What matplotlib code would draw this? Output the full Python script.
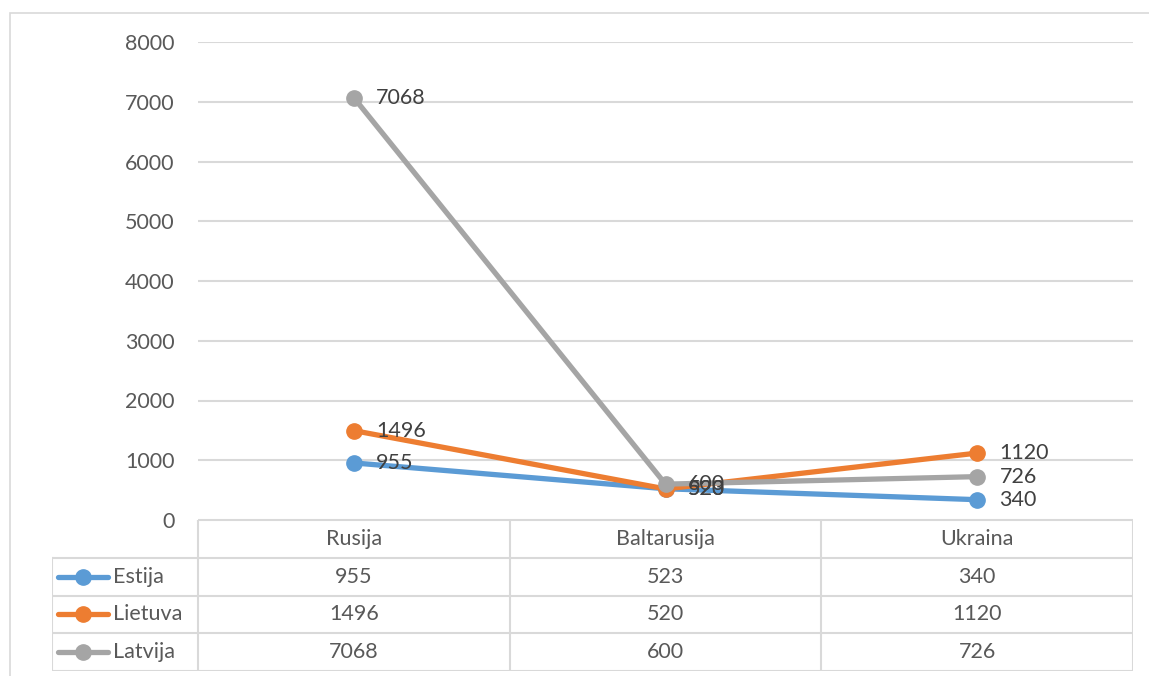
import numpy as np
import matplotlib.pyplot as plt
from matplotlib.patches import Rectangle

# datos
categorias = ['Rusija', 'Baltarusija', 'Ukraina']
series_nombres = ['Estija', 'Lietuva', 'Latvija']
estija = [955, 523, 340]
lietuva = [1496, 520, 1120]
latvija = [7068, 600, 726]
colores = ['#5B9BD5', '#ED7D31', '#A5A5A5']
yticks = [0, 1000, 2000, 3000, 4000, 5000, 6000, 7000, 8000]

valores = [estija, lietuva, latvija]

plt.rcParams['font.family'] = ['Lato', 'DejaVu Sans']
W, H = 1149, 676
fig = plt.figure(figsize=(W / 100, H / 100), dpi=100)

# borde exterior
fig.patches.append(Rectangle((10 / W, -0.05), 1.1, (H - 13) / H + 0.05,
                             transform=fig.transFigure, fill=False,
                             edgecolor='#D9D9D9', lw=1.2))

# area del grafico
x0, x1 = 198, 1133
ytop, ybot = 42, 520
ax = fig.add_axes([x0 / W, (H - ybot) / H, (x1 - x0) / W, (ybot - ytop) / H])
ax.set_xlim(-0.5, len(categorias) - 0.5)
ax.set_ylim(0, 8000)
ax.set_yticks(yticks)
ax.set_xticks([])
for s in ax.spines.values():
    s.set_visible(False)
ax.grid(axis='y', color='#D9D9D9', lw=1.5)
ax.set_axisbelow(True)
ax.tick_params(axis='y', length=0, pad=17, labelsize=15.5, labelcolor='#595959')
ax.patch.set_alpha(0)

x = np.arange(len(categorias))
for vals, col in zip(valores, colores):
    ax.plot(x, vals, color=col, lw=3.8, marker='o', ms=11,
            solid_capstyle='round', clip_on=False, zorder=3)
for vals in valores:
    for xi, v in zip(x, vals):
        ax.annotate(str(v), (xi, v), xytext=(16, 0), textcoords='offset points',
                    va='center', ha='left', fontsize=15.5, color='#404040', zorder=5)

# tabla de datos
unidad = (x1 - x0) / len(categorias)
leg_left = 52
ancho_leg = (x0 - leg_left) / unidad
tb = 671
ax2 = fig.add_axes([leg_left / W, (H - tb) / H, (x1 - leg_left) / W, (tb - ybot) / H])
ax2.set_xlim(-0.5 - ancho_leg, len(categorias) - 0.5)
ax2.set_ylim(4, 0)
ax2.axis('off')
ax2.patch.set_alpha(0)

gc = '#D9D9D9'
xl = -0.5 - ancho_leg
xr = len(categorias) - 0.5
ax2.plot([-0.5, xr], [0, 0], color=gc, lw=1.5)
for r in range(1, 5):
    ax2.plot([xl, xr], [r, r], color=gc, lw=1.5)
ax2.plot([xl, xl], [1, 4], color=gc, lw=1.5)
for c in range(len(categorias) + 1):
    ax2.plot([c - 0.5, c - 0.5], [0, 4], color=gc, lw=1.5)

for i, cat in enumerate(categorias):
    ax2.text(i, 0.5, cat, ha='center', va='center', fontsize=15.5, color='#595959')
for r, (nom, vals, col) in enumerate(zip(series_nombres, valores, colores)):
    yy = r + 1.5
    lx = xl + 0.02
    ax2.plot([lx, lx + 0.16], [yy, yy], color=col, lw=3.8, solid_capstyle='round')
    ax2.plot([lx + 0.08], [yy], 'o', color=col, ms=11)
    ax2.text(lx + 0.175, yy, nom, ha='left', va='center', fontsize=15.5, color='#595959')
    for i, v in enumerate(vals):
        ax2.text(i, yy, str(v), ha='center', va='center', fontsize=15.5, color='#595959')

fig.savefig('out.png', dpi=100)
